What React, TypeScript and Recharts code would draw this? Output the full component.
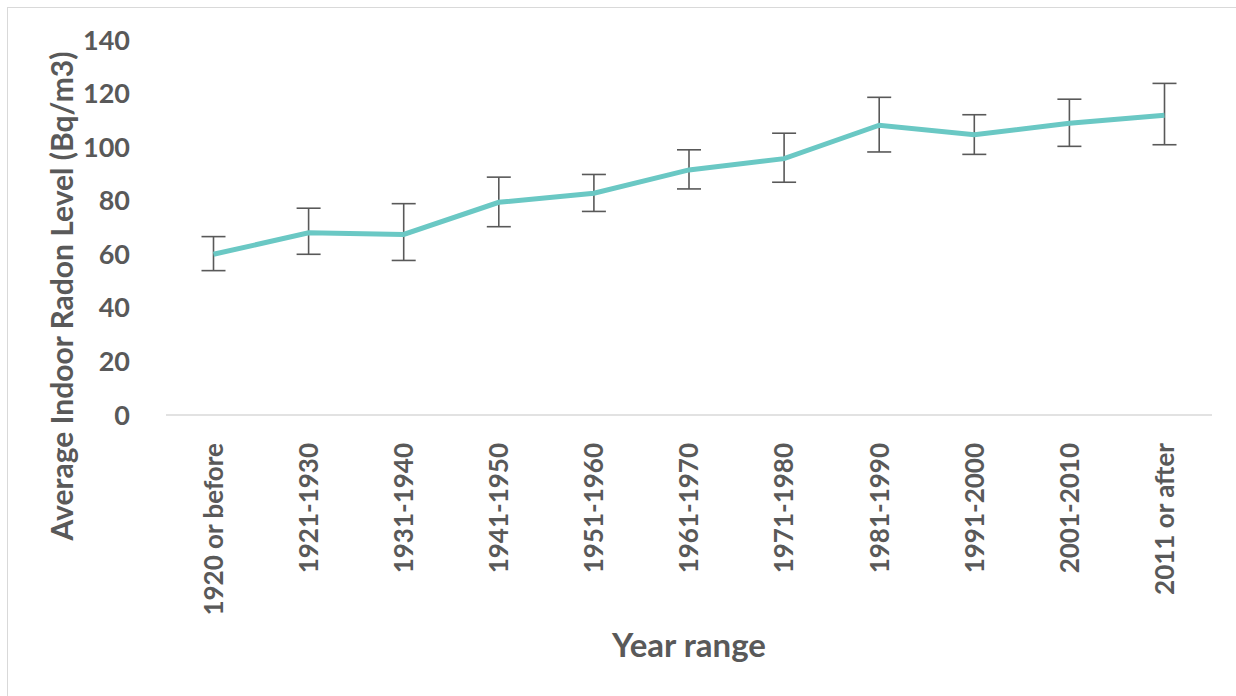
import React from "react";
import { LineChart, Line, XAxis, YAxis, ErrorBar } from "recharts";

const categories = [
  "1920 or before",
  "1921-1930",
  "1931-1940",
  "1941-1950",
  "1951-1960",
  "1961-1970",
  "1971-1980",
  "1981-1990",
  "1991-2000",
  "2001-2010",
  "2011 or after",
];
const means = [60.0, 68.0, 67.4, 79.4, 82.8, 91.5, 95.7, 108.2, 104.6, 108.9, 111.9];
const upper = [66.6, 77.2, 78.9, 88.8, 89.8, 99.0, 105.2, 118.6, 112.1, 117.9, 123.8];
const lower = [53.9, 60.0, 57.7, 70.3, 76.0, 84.4, 86.9, 98.2, 97.3, 100.3, 100.9];
const yTicks = [0, 20, 40, 60, 80, 100, 120, 140];

const data = categories.map((c, i) => ({
  name: c,
  value: means[i],
  err: [means[i] - lower[i], upper[i] - means[i]],
}));

const FONT = "Lato, 'Open Sans', sans-serif";
const TEXT = "#595959";

const XTick = (props: any) => {
  const { x, y, payload } = props;
  const ty = y + 20;
  return (
    <text
      x={x}
      y={ty}
      transform={`rotate(-90, ${x}, ${ty})`}
      textAnchor="end"
      dy="0.36em"
      fill={TEXT}
      fontFamily={FONT}
      fontWeight={700}
      fontSize={26}
    >
      {payload.value}
    </text>
  );
};

const XTitle = (props: any) => {
  const vb = props.viewBox;
  return (
    <text
      x={vb.x + vb.width / 2}
      y={vb.y + 230}
      textAnchor="middle"
      dy="0.36em"
      fill={TEXT}
      fontFamily={FONT}
      fontWeight={700}
      fontSize={33}
    >
      Year range
    </text>
  );
};

const YTitle = (props: any) => {
  const vb = props.viewBox;
  const cx = vb.x + 52;
  const cy = 296;
  return (
    <text
      x={cx}
      y={cy}
      transform={`rotate(-90, ${cx}, ${cy})`}
      textAnchor="middle"
      dy="0.36em"
      fill={TEXT}
      fontFamily={FONT}
      fontWeight={700}
      fontSize={30}
    >
      Average Indoor Radon Level (Bq/m3)
    </text>
  );
};

export default function App() {
  return (
    <div
      style={{
        position: "absolute",
        left: 0,
        top: 0,
        width: 1236,
        height: 696,
        overflow: "hidden",
        background: "#fff",
      }}
    >
      <div
        style={{
          position: "absolute",
          left: 7,
          top: 7,
          width: 1260,
          height: 720,
          border: "1px solid #D9D9D9",
          boxSizing: "border-box",
        }}
      />
      <div style={{ position: "absolute", left: 0, top: 0 }}>
        <LineChart
          width={1236}
          height={696}
          data={data}
          margin={{ top: 40, right: 24, bottom: 41, left: 10 }}
        >
          <XAxis
            dataKey="name"
            type="category"
            height={240}
            padding={{ left: 47.5, right: 47.5 }}
            axisLine={{ stroke: "#D9D9D9", strokeWidth: 1.4 }}
            tickLine={false}
            tick={<XTick />}
            interval={0}
            label={<XTitle />}
          />
          <YAxis
            type="number"
            domain={[0, 140]}
            ticks={yTicks}
            width={156}
            axisLine={false}
            tickLine={false}
            tickMargin={30}
            tick={{ fill: TEXT, fontFamily: FONT, fontWeight: 700, fontSize: 27 }}
            label={<YTitle />}
          />
          <Line
            type="linear"
            dataKey="value"
            stroke="#6AC8C4"
            strokeWidth={5}
            dot={false}
            activeDot={false}
            isAnimationActive={false}
          >
            <ErrorBar
              dataKey="err"
              direction="y"
              width={12}
              stroke="#595959"
              strokeWidth={1.6}
              isAnimationActive={false}
            />
          </Line>
        </LineChart>
      </div>
    </div>
  );
}
